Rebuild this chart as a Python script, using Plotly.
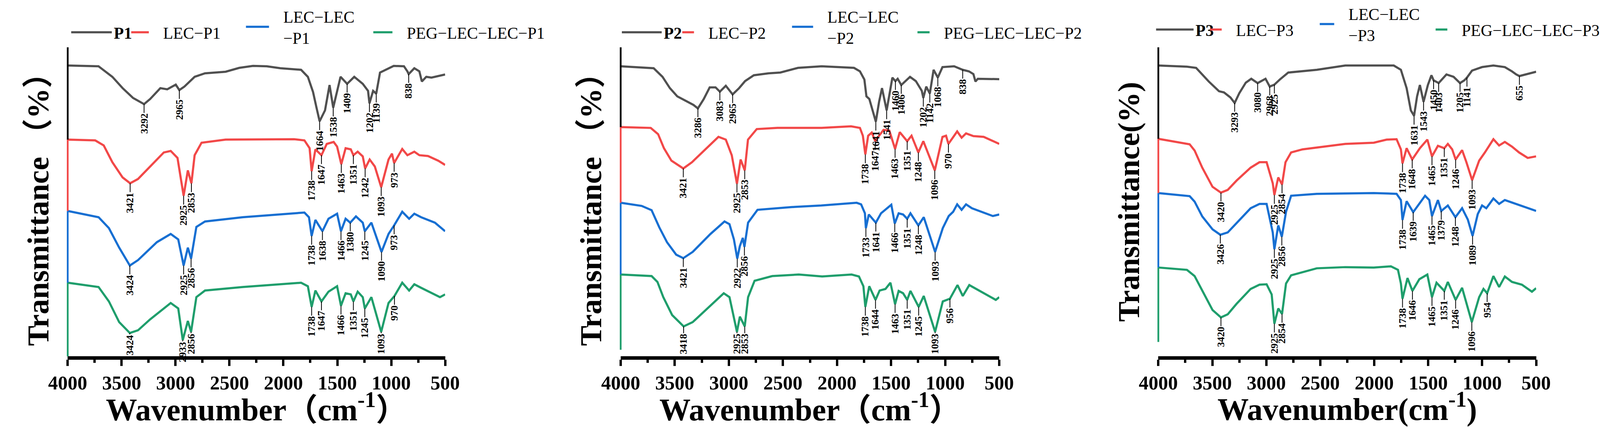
import numpy as np
import plotly.graph_objects as go

# ---------------- panel 1 ----------------
p1_wn = [4000, 3714, 3586, 3491, 3395, 3292, 3236, 3141, 3077, 2998, 2965, 2918, 2823, 2727, 2536, 2409,
         2282, 2154, 2027, 1836, 1773, 1725, 1693, 1664, 1614, 1572, 1538, 1470, 1409, 1343, 1264, 1215,
         1202, 1168, 1139, 1104, 977, 882, 850, 838, 786, 739, 716, 675, 627, 500]
p1_t = [746, 744, 717, 688, 663, 647, 660, 688, 685, 697, 683, 692, 717, 726, 730, 740,
        745, 744, 739, 735, 717, 678, 638, 603, 631, 696, 638, 717, 699, 717, 699, 681,
        649, 681, 674, 728, 745, 744, 731, 724, 739, 731, 705, 717, 715, 723]
p1_peaks = [3292, 2965, 1664, 1538, 1409, 1202, 1139, 838]

lec_p1_wn = [4000, 3745, 3666, 3586, 3491, 3421, 3348, 3236, 3109, 3045, 2982, 2944, 2925, 2886, 2853, 2823,
             2759, 2536, 2218, 1900, 1805, 1757, 1738, 1703, 1647, 1598, 1534, 1502, 1463, 1423, 1375, 1351,
             1311, 1264, 1242, 1200, 1152, 1093, 1025, 993, 973, 898, 850, 786, 739, 659, 564, 500]
lec_p1_t = [556, 554, 541, 498, 459, 444, 455, 487, 523, 527, 509, 444, 412, 477, 444, 516,
            548, 556, 556, 557, 554, 534, 475, 531, 516, 545, 550, 538, 493, 534, 531, 516,
            525, 513, 482, 505, 487, 434, 505, 520, 496, 532, 516, 525, 516, 514, 502, 491]
lec_p1_peaks = [3421, 2925, 2853, 1738, 1647, 1463, 1351, 1242, 1093, 973]

lec2_p1_wn = [4000, 3714, 3618, 3523, 3424, 3348, 3173, 3045, 2975, 2925, 2886, 2856, 2807, 2727, 2377, 1900,
              1805, 1763, 1738, 1703, 1638, 1582, 1502, 1466, 1423, 1380, 1327, 1264, 1245, 1184, 1090, 1025,
              973, 898, 834, 786, 723, 595, 500]
lec2_p1_t = [373, 357, 329, 279, 233, 247, 293, 314, 300, 233, 279, 251, 332, 346, 357, 367,
             369, 357, 309, 350, 321, 353, 366, 321, 353, 343, 359, 343, 321, 343, 268, 314,
             336, 371, 353, 366, 357, 343, 321]
lec2_p1_peaks = [3424, 2925, 2856, 1738, 1638, 1466, 1380, 1245, 1090, 973]

peg_p1_wn = [4000, 3714, 3618, 3523, 3424, 3348, 3236, 3045, 2975, 2933, 2886, 2856, 2807, 2727, 2377, 1900,
             1836, 1773, 1738, 1703, 1647, 1582, 1502, 1466, 1423, 1375, 1351, 1311, 1264, 1245, 1184, 1093,
             1025, 970, 898, 834, 786, 723, 548, 500]
peg_p1_t = [189, 178, 141, 88, 60, 67, 95, 137, 123, 42, 91, 63, 152, 169, 178, 187,
            189, 180, 127, 169, 141, 166, 180, 130, 162, 159, 141, 166, 152, 123, 152, 63,
            137, 155, 189, 169, 185, 176, 152, 159]
peg_p1_peaks = [3424, 2933, 2856, 1738, 1647, 1466, 1351, 1245, 1093, 970]

# ---------------- panel 2 ----------------
p2_wn = [4000, 3695, 3613, 3545, 3477, 3382, 3327, 3286, 3232, 3177, 3123, 3083, 3028, 2965, 2905, 2850,
         2769, 2633, 2524, 2360, 2142, 1843, 1788, 1747, 1728, 1701, 1641, 1611, 1584, 1541, 1510, 1488,
         1460, 1439, 1406, 1325, 1271, 1216, 1202, 1175, 1142, 1107, 1068, 1025, 917, 838, 780, 739,
         720, 698, 500]
p2_t = [744, 739, 717, 688, 667, 654, 645, 636, 660, 690, 690, 679, 694, 672, 688, 706,
        721, 726, 728, 740, 744, 740, 731, 710, 667, 660, 602, 653, 688, 631, 681, 715,
        706, 712, 696, 717, 706, 681, 663, 692, 674, 735, 715, 742, 744, 735, 731, 724,
        705, 712, 711]
p2_peaks = [3286, 3083, 2965, 1641, 1541, 1460, 1406, 1202, 1142, 1068, 838]

lec_p2_wn = [4000, 3722, 3654, 3600, 3531, 3421, 3341, 3232, 3096, 3028, 2973, 2925, 2891, 2853, 2823, 2742,
             2551, 2142, 1870, 1788, 1761, 1738, 1712, 1679, 1647, 1611, 1570, 1516, 1463, 1420, 1380, 1351,
             1311, 1248, 1202, 1096, 1025, 992, 970, 889, 848, 807, 739, 644, 500]
lec_p2_t = [588, 586, 570, 534, 502, 482, 498, 527, 563, 556, 516, 443, 505, 477, 556, 583,
            586, 586, 590, 586, 566, 518, 566, 574, 552, 566, 581, 579, 532, 575, 561, 552,
            566, 523, 552, 477, 563, 566, 545, 577, 561, 572, 565, 563, 545]
lec_p2_peaks = [3421, 2925, 2853, 1738, 1647, 1463, 1351, 1248, 1096, 970]

lec2_p2_wn = [4000, 3806, 3714, 3643, 3572, 3487, 3421, 3334, 3170, 3040, 2994, 2953, 2922, 2898, 2871, 2856,
              2822, 2735, 2417, 2146, 1818, 1777, 1742, 1733, 1706, 1641, 1593, 1498, 1466, 1430, 1389, 1351,
              1321, 1248, 1198, 1093, 1022, 967, 926, 889, 848, 807, 753, 617, 559, 500]
lec2_p2_t = [394, 386, 375, 331, 293, 261, 252, 268, 314, 346, 339, 300, 251, 283, 304, 281,
             343, 376, 383, 387, 394, 390, 367, 329, 364, 343, 367, 389, 341, 367, 364, 353,
             367, 336, 357, 268, 329, 360, 371, 390, 376, 390, 380, 365, 360, 364]
lec2_p2_peaks = [3421, 2922, 2856, 1733, 1641, 1466, 1351, 1248, 1093]

peg_p2_wn = [4000, 3714, 3660, 3606, 3524, 3418, 3334, 3170, 3047, 2994, 2925, 2898, 2877, 2853, 2822, 2762,
             2599, 2354, 2137, 1865, 1797, 1756, 1738, 1702, 1644, 1606, 1552, 1506, 1463, 1430, 1389, 1351,
             1321, 1245, 1198, 1093, 1022, 956, 886, 837, 777, 668, 532, 500]
peg_p2_t = [210, 206, 191, 152, 106, 77, 88, 130, 162, 152, 63, 102, 91, 77, 152, 194,
            206, 210, 205, 210, 205, 180, 127, 180, 145, 169, 173, 189, 134, 168, 162, 145,
            168, 127, 155, 63, 141, 148, 183, 155, 183, 166, 145, 152]
peg_p2_peaks = [3418, 2925, 2853, 1738, 1644, 1463, 1351, 1245, 1093, 956]

# ---------------- panel 3 ----------------
p3_wn = [4000, 3735, 3650, 3533, 3438, 3392, 3332, 3293, 3250, 3190, 3139, 3080, 3007, 2968, 2925, 2875,
         2796, 2532, 2268, 1819, 1753, 1700, 1661, 1631, 1603, 1577, 1543, 1503, 1470, 1450, 1403, 1331,
         1265, 1205, 1165, 1141, 1094, 1001, 896, 790, 724, 684, 655, 578, 500]
p3_t = [746, 743, 740, 705, 680, 677, 664, 650, 675, 702, 712, 701, 712, 692, 697, 710,
        728, 735, 746, 746, 735, 688, 631, 617, 667, 696, 653, 696, 721, 708, 701, 723,
        717, 701, 708, 715, 733, 742, 746, 742, 731, 723, 719, 724, 730]
p3_peaks = [3293, 3080, 2968, 2925, 1631, 1543, 1450, 1403, 1205, 1141, 655]

lec_p3_wn = [4000, 3710, 3664, 3593, 3498, 3420, 3357, 3275, 3145, 3063, 2997, 2940, 2925, 2889, 2854, 2822,
             2770, 2664, 2268, 2004, 1885, 1793, 1753, 1738, 1700, 1648, 1577, 1508, 1465, 1410, 1351, 1318,
             1278, 1246, 1186, 1146, 1093, 1028, 975, 896, 843, 790, 724, 658, 578, 500]
lec_p3_t = [558, 544, 528, 484, 435, 420, 427, 451, 484, 498, 498, 444, 414, 459, 441, 498,
            523, 531, 545, 548, 556, 557, 531, 495, 534, 505, 534, 556, 513, 540, 534, 545,
            531, 505, 529, 498, 452, 502, 523, 557, 541, 550, 538, 523, 509, 513]
lec_p3_peaks = [3420, 2925, 2854, 1738, 1648, 1465, 1351, 1246, 1093]

lec2_p3_wn = [4000, 3710, 3664, 3593, 3498, 3426, 3357, 3275, 3145, 3063, 2997, 2940, 2925, 2889, 2856, 2817,
              2770, 2532, 2004, 1793, 1753, 1738, 1700, 1639, 1529, 1490, 1465, 1410, 1379, 1318, 1248, 1186,
              1133, 1089, 1041, 1001, 962, 896, 843, 790, 684, 578, 500]
lec2_p3_t = [419, 411, 397, 359, 326, 312, 318, 342, 380, 391, 391, 318, 275, 336, 307, 371,
             412, 417, 419, 417, 401, 350, 398, 370, 412, 401, 360, 401, 373, 387, 357, 380,
             351, 309, 365, 387, 380, 405, 391, 401, 391, 380, 373]
lec2_p3_peaks = [3426, 2925, 2856, 1738, 1639, 1465, 1379, 1248, 1089]

peg_p3_wn = [4000, 3735, 3664, 3593, 3498, 3420, 3357, 3275, 3145, 3063, 2997, 2950, 2925, 2889, 2854, 2817,
             2770, 2532, 2268, 2004, 1846, 1780, 1753, 1738, 1692, 1646, 1582, 1508, 1465, 1423, 1351, 1318,
             1246, 1186, 1096, 1028, 988, 954, 896, 843, 790, 724, 632, 539, 500]
peg_p3_t = [228, 222, 206, 168, 119, 100, 108, 135, 173, 184, 185, 159, 84, 123, 109, 187,
            208, 226, 229, 228, 231, 222, 187, 148, 201, 168, 198, 210, 152, 189, 168, 191,
            145, 176, 88, 152, 173, 162, 206, 178, 205, 191, 184, 166, 175]
peg_p3_peaks = [3420, 2925, 2854, 1738, 1646, 1465, 1351, 1246, 1096, 954]

tick_vals = [4000, 3500, 3000, 2500, 2000, 1500, 1000, 500]

# ---------------- styling ----------------
W, H = 4182, 1092
SERIF = "Liberation Serif, Times New Roman, Noto Sans CJK SC, serif"
colors = ["#505050", "#F24848", "#176FD2", "#1F9E6C"]
axis_colors = ["#000000", "#F24848", "#176FD2", "#1F9E6C"]
x_px = [(126, 1113), (1572, 2562), (2978, 3966)]
y_top, y_bot = 118, 911
t_max = 793          # y range == plot height in px, so 1 unit = 1 px
axis_floor = [0, 17, 37]
PAD = "\u00a0" * 3
LBL_SIZE = 26
LINE_LEN = 22

panels = [
    dict(series=[(p1_wn, p1_t, p1_peaks), (lec_p1_wn, lec_p1_t, lec_p1_peaks),
                 (lec2_p1_wn, lec2_p1_t, lec2_p1_peaks), (peg_p1_wn, peg_p1_t, peg_p1_peaks)],
         names=["<b>P1</b>", "LEC−P1", "LEC−LEC<br>−P1", "PEG−LEC−LEC−P1"],
         ytitle="Transmittance （%）", xtitle="Wavenumber（cm<sup>-1</sup>）",
         # legend box left x, y centre, sample length
         leg=[(130, 80, 104), (287, 80, 45), (587, 66, 59), (920, 80, 49)]),
    dict(series=[(p2_wn, p2_t, p2_peaks), (lec_p2_wn, lec_p2_t, lec_p2_peaks),
                 (lec2_p2_wn, lec2_p2_t, lec2_p2_peaks), (peg_p2_wn, peg_p2_t, peg_p2_peaks)],
         names=["<b>P2</b>", "LEC−P2", "LEC−LEC<br>−P2", "PEG−LEC−LEC−P2"],
         ytitle="Transmittance （%）", xtitle="Wavenumber（cm<sup>-1</sup>）",
         leg=[(1570, 80, 102), (1728, 80, 30), (2015, 66, 54), (2343, 80, 31)]),
    dict(series=[(p3_wn, p3_t, p3_peaks), (lec_p3_wn, lec_p3_t, lec_p3_peaks),
                 (lec2_p3_wn, lec2_p3_t, lec2_p3_peaks), (peg_p3_wn, peg_p3_t, peg_p3_peaks)],
         names=["<b>P3</b>", "LEC−P3", "LEC−LEC<br>−P3", "PEG−LEC−LEC−P3"],
         ytitle="Transmittance(%)", xtitle="Wavenumber(cm<sup>-1</sup>)",
         leg=[(2967, 73, 96), (3108, 73, 30), (3395, 59, 37), (3698, 73, 30)]),
]

fig = go.Figure()
layout = dict(width=W, height=H, margin=dict(l=0, r=0, t=0, b=0),
              paper_bgcolor="white", plot_bgcolor="white", showlegend=True)
shapes, annotations = [], []
leg_n = 0

for k, pan in enumerate(panels):
    sfx = "" if k == 0 else str(k + 1)
    xa, ya = "x" + sfx, "y" + sfx
    x0, x1 = x_px[k]
    layout["xaxis" + sfx] = dict(
        domain=[x0 / W, x1 / W], anchor=ya, range=[4000, 500], tickvals=tick_vals,
        showline=True, linewidth=9, linecolor="black", showgrid=False, zeroline=False,
        ticks="outside", ticklen=16, tickwidth=6, tickcolor="black",
        minor=dict(dtick=250, tick0=500, ticks="outside", ticklen=8, tickwidth=6, tickcolor="black",
                   showgrid=False),
        tickfont=dict(family=SERIF, size=50, color="black", weight="bold"),
        title=dict(text=pan["xtitle"], standoff=10,
                   font=dict(family=SERIF, size=80, color="black", weight="bold")),
    )
    layout["yaxis" + sfx] = dict(
        domain=[1 - y_bot / H, 1 - y_top / H], anchor=xa, range=[0, t_max],
        showline=False, showgrid=False, zeroline=False, showticklabels=False, ticks="",
        title=dict(text=pan["ytitle"], standoff=22,
                   font=dict(family=SERIF, size=78, color="black", weight="bold")),
    )

    starts = [s[1][0] for s in pan["series"]]
    for i, ((wn, t, peaks), name) in enumerate(zip(pan["series"], pan["names"])):
        leg_n += 1
        lname = "legend" if leg_n == 1 else "legend%d" % leg_n
        if i > 0:
            name = "<br>".join(PAD + part for part in name.split("<br>"))
        fig.add_trace(go.Scatter(x=wn, y=t, mode="lines", name=name, legend=lname,
                                 line=dict(color=colors[i], width=5.5),
                                 xaxis=xa, yaxis=ya, hoverinfo="skip"))
        lx, ly, lw = pan["leg"][i]
        layout[lname] = dict(
            x=lx / W, y=1 - ly / H, xanchor="left", yanchor="middle", orientation="h",
            bgcolor="rgba(0,0,0,0)", borderwidth=0, itemwidth=lw,
            font=dict(family=SERIF, size=42, color="black"),
        )
        # coloured piece of the y axis next to each spectrum
        seg_hi = t_max if i == 0 else starts[i]
        seg_lo = starts[i + 1] if i < 3 else axis_floor[k]
        shapes.append(dict(type="line", xref=xa + " domain", yref=ya, x0=0, x1=0,
                           y0=seg_lo, y1=seg_hi, line=dict(color=axis_colors[i], width=4.5)))
        # peak labels, leader line shortened when the label would run into the x axis
        wn_r, t_r = np.array(wn[::-1], float), np.array(t[::-1], float)
        for v in peaks:
            s = str(v)
            tip = float(np.interp(v, wn_r, t_r))
            txt_len = len(s) * LBL_SIZE * 0.5
            line_len = max(3, min(LINE_LEN, tip - 8 - txt_len))
            annotations.append(dict(
                x=v, y=tip, xref=xa, yref=ya, text=s,
                textangle=-90, showarrow=True, arrowhead=0, arrowwidth=2, arrowcolor="black",
                ax=0, ay=line_len + txt_len / 2 + 2,
                font=dict(family=SERIF, size=LBL_SIZE, color="black", weight="bold"),
            ))

layout["shapes"] = shapes
layout["annotations"] = annotations
fig.update_layout(**layout)

fig.write_html("out.html", config={"displayModeBar": False},
               post_script="document.body.style.margin='0px';")
